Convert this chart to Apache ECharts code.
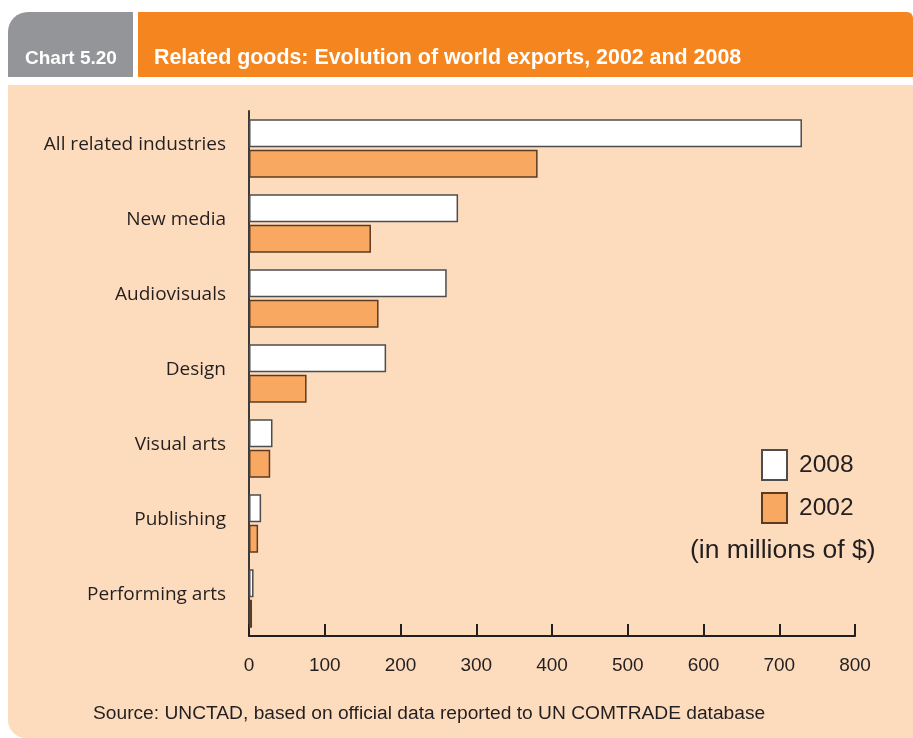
<!DOCTYPE html>
<html>
<head>
<meta charset="utf-8">
<script src="https://cdn.jsdelivr.net/npm/echarts@6/dist/echarts.min.js"></script>
<style>
html,body{margin:0;padding:0;background:#ffffff;}
#chart{width:913px;height:738px;}
</style>
</head>
<body>
<div id="chart"></div>
<script>
var categories = ['All related industries','New media','Audiovisuals','Design','Visual arts','Publishing','Performing arts'];
var values2008 = [730, 276, 261, 181, 31, 16, 6];
var values2002 = [381, 161, 171, 76, 28, 12, 4];
var seriesNames = ['2008','2002'];
var xTicks = [0,100,200,300,400,500,600,700,800];

var chart = echarts.init(document.getElementById('chart'), null, {renderer:'canvas'});
var option = {
  animation:false,
  backgroundColor:'#ffffff',
  graphic:[
    {type:'rect', z:-10, shape:{x:8,y:85,width:905,height:653,r:[0,0,0,18]}, style:{fill:'#FDDCBE'}},
    {type:'rect', z:-10, shape:{x:8,y:12,width:125,height:65,r:[20,0,0,0]}, style:{fill:'#939598'}},
    {type:'rect', z:-10, shape:{x:138,y:12,width:775,height:65,r:[0,6,0,0]}, style:{fill:'#F5861F'}},
    {type:'text', left:25, top:49, style:{text:'Chart 5.20', fill:'#ffffff', font:'bold 19px "Liberation Sans", Arial, sans-serif'}},
    {type:'text', left:154, top:48, style:{text:'Related goods: Evolution of world exports, 2002 and 2008', fill:'#ffffff', font:'bold 21.4px "Liberation Sans", Arial, sans-serif'}},
    {type:'text', left:690, top:537, style:{text:'(in millions of $)', fill:'#231f20', font:'26.5px "Liberation Sans", Arial, sans-serif'}},
    {type:'text', left:93, top:704, style:{text:'Source: UNCTAD, based on official data reported to UN COMTRADE database', fill:'#231f20', font:'19.2px "Liberation Sans", Arial, sans-serif'}}
  ],
  legend:{
    orient:'vertical', left:756, top:444, itemWidth:25, itemHeight:30, itemGap:11,
    icon:'rect', data:seriesNames,
    textStyle:{fontSize:24.5, color:'#231f20', fontFamily:'"Liberation Sans", Arial, sans-serif', padding:[0,0,0,7]}
  },
  grid:{left:249, right:58, top:111, bottom:102, containLabel:false},
  xAxis:{
    type:'value', min:0, max:800, interval:100,
    axisLine:{show:true, lineStyle:{color:'#231f20', width:2}},
    axisTick:{show:true, inside:true, length:12, lineStyle:{color:'#231f20', width:2}},
    splitLine:{show:false},
    axisLabel:{margin:20, fontSize:19, color:'#231f20', fontFamily:'"Liberation Sans", Arial, sans-serif',
      formatter:function(v){ return xTicks.indexOf(v) >= 0 ? String(v) : ''; }}
  },
  yAxis:{
    type:'category', data:categories, inverse:true,
    axisLine:{show:true, lineStyle:{color:'#3a3a3a', width:2}},
    axisTick:{show:false},
    axisLabel:{margin:23, fontSize:19, color:'#231f20', fontFamily:'"Open Sans", "Noto Sans", sans-serif', verticalAlign:'bottom', lineHeight:8}
  },
  series:[
    {name:seriesNames[0], type:'bar', data:values2008, barWidth:28, barGap:'9%',
      itemStyle:{color:'#ffffff', borderColor:'#4d4d4d', borderWidth:1.5}},
    {name:seriesNames[1], type:'bar', data:values2002, barWidth:28, barGap:'9%',
      itemStyle:{color:'#F9A862', borderColor:'#5b3b22', borderWidth:1.5}}
  ]
};
chart.setOption(option);
</script>
</body>
</html>
